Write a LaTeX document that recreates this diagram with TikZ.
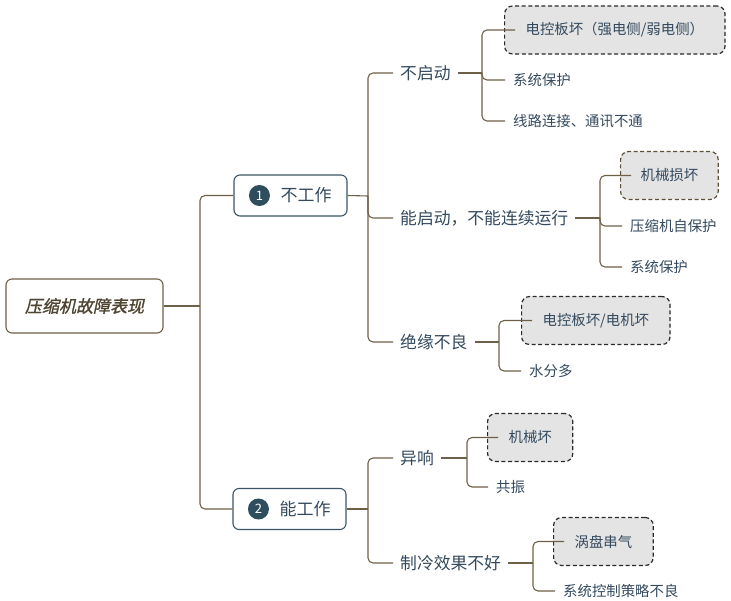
\documentclass[tikz,border=0pt]{standalone}
\usepackage{fontspec}
\setmainfont{Noto Sans CJK SC}
\newfontfamily\rootfont[FakeSlant=0.22,FakeBold=1.2]{Noto Sans CJK SC}
\definecolor{linec}{HTML}{6E6047}
\definecolor{txtc}{HTML}{34495E}
\definecolor{lonec}{HTML}{3B5566}
\definecolor{circc}{HTML}{2E4E5E}
\definecolor{boxfill}{HTML}{E4E4E4}
\definecolor{dashc}{HTML}{2A2A2A}
\definecolor{dashb}{HTML}{5C5038}
\definecolor{rootc}{HTML}{4D4431}
\tikzset{
  conn/.style={draw=linec, line width=1.1pt, rounded corners=5pt},
  rootbox/.style={draw=linec, line width=1.1pt, rounded corners=6pt, fill=white,
    minimum width=157pt, minimum height=54pt, font=\rootfont\fontsize{17pt}{20pt}\selectfont, text=rootc},
  onebox/.style={draw=lonec, line width=1.1pt, rounded corners=6pt, fill=white,
    minimum width=113pt, minimum height=41pt},
  numcirc/.style={circle, fill=circc, minimum size=21pt, inner sep=0pt, text=white,
    font=\fontsize{13pt}{15pt}\selectfont},
  onetext/.style={anchor=west, inner xsep=0pt, text=txtc, font=\fontsize{17pt}{20pt}\selectfont},
  twotext/.style={anchor=west, inner xsep=7pt, text=txtc, font=\fontsize{16.8pt}{20pt}\selectfont},
  leaf/.style={anchor=west, inner xsep=8pt, text=txtc, font=\fontsize{14.4pt}{17pt}\selectfont},
  dbox/.style={anchor=west, draw=dashc, fill=boxfill, line width=1.2pt, dash pattern=on 4pt off 2.6pt,
    rounded corners=8pt, minimum height=48pt, inner xsep=21pt, text=txtc,
    font=\fontsize{14.4pt}{17pt}\selectfont},
}
\begin{document}
\begin{tikzpicture}[x=1pt,y=-1pt]
\useasboundingbox (0,0) rectangle (731,601);
% root and level one
\node[rootbox] (root) at (84.5,306) {压缩机故障表现};
\node[onebox] (n1) at (290.5,195.5) {};
\node[numcirc] (c1) at ([xshift=26pt]n1.west) {1};
\node[onetext] (t1) at ([xshift=47pt]n1.west) {不工作};
\node[onebox] (n2) at (289.5,509) {};
\node[numcirc] (c2) at ([xshift=26pt]n2.west) {2};
\node[onetext] (t2) at ([xshift=47pt]n2.west) {能工作};
% level two
\node[twotext] (a1) at (393,73) {不启动};
\node[twotext] (a2) at (393,218) {能启动，不能连续运行};
\node[twotext] (a3) at (393,342) {绝缘不良};
\node[twotext] (a4) at (393,458) {异响};
\node[twotext] (a5) at (393,563) {制冷效果不好};
% leaves
\node[dbox] (b1) at (504,30) {电控板坏（强电侧/弱电侧）};
\node[leaf] (b2) at (505,80) {系统保护};
\node[leaf] (b3) at (505,121) {线路连接、通讯不通};
\node[dbox, draw=dashb, inner xsep=20pt] (b4) at (620,175.5) {机械损坏};
\node[leaf] (b5) at (622,226) {压缩机自保护};
\node[leaf] (b6) at (622,267) {系统保护};
\node[dbox] (b7) at (521,320.5) {电控板坏/电机坏};
\node[leaf] (b8) at (521,371) {水分多};
\node[dbox] (b9) at (487,437.5) {机械坏};
\node[leaf] (b10) at (488,487) {共振};
\node[dbox] (b11) at (553,541.5) {涡盘串气};
\node[leaf] (b12) at (555,591) {系统控制策略不良};
% junction points
\coordinate (j0) at (200,306);
\coordinate (j1) at (368,196);
\coordinate (j2) at (368,509);
\coordinate (s1) at (482,73);
\coordinate (s2) at (600,218);
\coordinate (s3) at (499,342);
\coordinate (s4) at (467,458);
\coordinate (s5) at (533,563);
% connectors
\draw[conn] (root.east) -- (j0);
\draw[conn] (j0) |- (n1.west);
\draw[conn] (j0) |- (n2.west);
\draw[conn] (n1.east) -- (j1);
\draw[conn] (j1) |- (a1.west);
\draw[conn] (j1) |- (a2.west);
\draw[conn] (j1) |- (a3.west);
\draw[conn] (n2.east) -- (j2);
\draw[conn] (j2) |- (a4.west);
\draw[conn] (j2) |- (a5.west);
\draw[conn] (a1.east) -- (s1);
\draw[conn] (s1) |- ([xshift=11pt]b1.west);
\draw[conn] (s1) |- (b2.west);
\draw[conn] (s1) |- (b3.west);
\draw[conn] (a2.east) -- (s2);
\draw[conn] (s2) |- ([xshift=11pt]b4.west);
\draw[conn] (s2) |- (b5.west);
\draw[conn] (s2) |- (b6.west);
\draw[conn] (a3.east) -- (s3);
\draw[conn] (s3) |- ([xshift=11pt]b7.west);
\draw[conn] (s3) |- (b8.west);
\draw[conn] (a4.east) -- (s4);
\draw[conn] (s4) |- ([xshift=11pt]b9.west);
\draw[conn] (s4) |- (b10.west);
\draw[conn] (a5.east) -- (s5);
\draw[conn] (s5) |- ([xshift=11pt]b11.west);
\draw[conn] (s5) |- (b12.west);
\end{tikzpicture}
\end{document}
